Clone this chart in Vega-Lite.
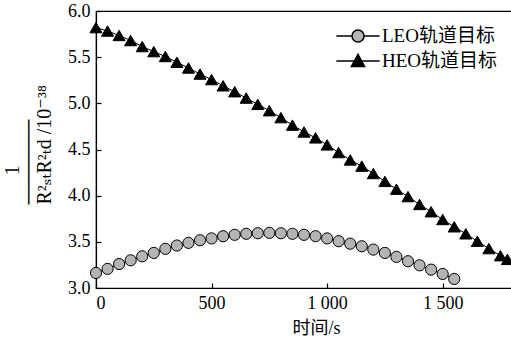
{
  "$schema": "https://vega.github.io/schema/vega-lite/v6.json",
  "width": 416,
  "height": 277,
  "autosize": "none",
  "padding": {"left": 96, "top": 11, "right": 0, "bottom": 57},
  "background": "white",
  "config": {
    "view": {"stroke": "black", "strokeWidth": 1.2},
    "font": "Liberation Serif, DejaVu Serif, Noto Sans CJK SC",
    "axis": {
      "grid": false,
      "domainColor": "black",
      "domainWidth": 1.2,
      "tickColor": "black",
      "tickWidth": 1.2,
      "tickSize": -5,
      "labelColor": "black",
      "titleColor": "black",
      "labelFont": "Liberation Serif, DejaVu Serif, Noto Sans CJK SC",
      "titleFont": "Liberation Serif, DejaVu Serif, Noto Sans CJK SC",
      "labelFontSize": 18,
      "titleFontSize": 18,
      "titleFontWeight": "normal"
    }
  },
  "datasets": {
    "d": [
      {"series": "LEO轨道目标", "t": 0, "v": 3.163},
      {"series": "LEO轨道目标", "t": 50, "v": 3.207},
      {"series": "LEO轨道目标", "t": 100, "v": 3.26},
      {"series": "LEO轨道目标", "t": 150, "v": 3.3},
      {"series": "LEO轨道目标", "t": 200, "v": 3.343},
      {"series": "LEO轨道目标", "t": 250, "v": 3.38},
      {"series": "LEO轨道目标", "t": 300, "v": 3.424},
      {"series": "LEO轨道目标", "t": 350, "v": 3.46},
      {"series": "LEO轨道目标", "t": 400, "v": 3.489},
      {"series": "LEO轨道目标", "t": 450, "v": 3.517},
      {"series": "LEO轨道目标", "t": 500, "v": 3.537},
      {"series": "LEO轨道目标", "t": 550, "v": 3.561},
      {"series": "LEO轨道目标", "t": 600, "v": 3.576},
      {"series": "LEO轨道目标", "t": 650, "v": 3.587},
      {"series": "LEO轨道目标", "t": 700, "v": 3.593},
      {"series": "LEO轨道目标", "t": 750, "v": 3.597},
      {"series": "LEO轨道目标", "t": 800, "v": 3.593},
      {"series": "LEO轨道目标", "t": 850, "v": 3.587},
      {"series": "LEO轨道目标", "t": 900, "v": 3.576},
      {"series": "LEO轨道目标", "t": 950, "v": 3.561},
      {"series": "LEO轨道目标", "t": 1000, "v": 3.537},
      {"series": "LEO轨道目标", "t": 1050, "v": 3.507},
      {"series": "LEO轨道目标", "t": 1100, "v": 3.48},
      {"series": "LEO轨道目标", "t": 1150, "v": 3.452},
      {"series": "LEO轨道目标", "t": 1200, "v": 3.416},
      {"series": "LEO轨道目标", "t": 1250, "v": 3.38},
      {"series": "LEO轨道目标", "t": 1300, "v": 3.337},
      {"series": "LEO轨道目标", "t": 1350, "v": 3.29},
      {"series": "LEO轨道目标", "t": 1400, "v": 3.246},
      {"series": "LEO轨道目标", "t": 1450, "v": 3.199},
      {"series": "LEO轨道目标", "t": 1500, "v": 3.152},
      {"series": "LEO轨道目标", "t": 1550, "v": 3.098},
      {"series": "HEO轨道目标", "t": 0, "v": 5.82},
      {"series": "HEO轨道目标", "t": 50, "v": 5.783},
      {"series": "HEO轨道目标", "t": 100, "v": 5.735},
      {"series": "HEO轨道目标", "t": 150, "v": 5.68},
      {"series": "HEO轨道目标", "t": 200, "v": 5.615},
      {"series": "HEO轨道目标", "t": 250, "v": 5.56},
      {"series": "HEO轨道目标", "t": 300, "v": 5.507},
      {"series": "HEO轨道目标", "t": 350, "v": 5.445},
      {"series": "HEO轨道目标", "t": 400, "v": 5.383},
      {"series": "HEO轨道目标", "t": 450, "v": 5.317},
      {"series": "HEO轨道目标", "t": 500, "v": 5.257},
      {"series": "HEO轨道目标", "t": 550, "v": 5.19},
      {"series": "HEO轨道目标", "t": 600, "v": 5.126},
      {"series": "HEO轨道目标", "t": 650, "v": 5.057},
      {"series": "HEO轨道目标", "t": 700, "v": 4.989},
      {"series": "HEO轨道目标", "t": 750, "v": 4.92},
      {"series": "HEO轨道目标", "t": 800, "v": 4.845},
      {"series": "HEO轨道目标", "t": 850, "v": 4.764},
      {"series": "HEO轨道目标", "t": 900, "v": 4.69},
      {"series": "HEO轨道目标", "t": 950, "v": 4.626},
      {"series": "HEO轨道目标", "t": 1000, "v": 4.55},
      {"series": "HEO轨道目标", "t": 1050, "v": 4.467},
      {"series": "HEO轨道目标", "t": 1100, "v": 4.387},
      {"series": "HEO轨道目标", "t": 1150, "v": 4.32},
      {"series": "HEO轨道目标", "t": 1200, "v": 4.24},
      {"series": "HEO轨道目标", "t": 1250, "v": 4.155},
      {"series": "HEO轨道目标", "t": 1300, "v": 4.07},
      {"series": "HEO轨道目标", "t": 1350, "v": 3.99},
      {"series": "HEO轨道目标", "t": 1400, "v": 3.905},
      {"series": "HEO轨道目标", "t": 1450, "v": 3.826},
      {"series": "HEO轨道目标", "t": 1500, "v": 3.742},
      {"series": "HEO轨道目标", "t": 1550, "v": 3.663},
      {"series": "HEO轨道目标", "t": 1600, "v": 3.587},
      {"series": "HEO轨道目标", "t": 1650, "v": 3.507},
      {"series": "HEO轨道目标", "t": 1700, "v": 3.427},
      {"series": "HEO轨道目标", "t": 1750, "v": 3.35},
      {"series": "HEO轨道目标", "t": 1780, "v": 3.31}
    ]
  },
  "data": {"name": "d"},
  "encoding": {
    "x": {
      "field": "t",
      "type": "quantitative",
      "scale": {"domain": [0, 1800], "nice": false, "zero": false},
      "axis": {
        "values": [0, 500, 1000, 1500],
        "labelExpr": "replace(format(datum.value, ','), ',', ' ')",
        "labelPadding": 11,
        "title": "时间/s",
        "titlePadding": 7,
        "titleX": 220
      }
    },
    "y": {
      "field": "v",
      "type": "quantitative",
      "scale": {"domain": [3, 6], "nice": false, "zero": false},
      "axis": {
        "values": [3, 3.5, 4, 4.5, 5, 5.5, 6],
        "format": ".1f",
        "labelPadding": 11,
        "title": ["⠀⠀1", "──────", "R²ₛₜR²ₜd /10⁻³⁸"],
        "titleAngle": -90,
        "titleAlign": "left",
        "titleBaseline": "middle",
        "titleFontSize": 20,
        "titleLineHeight": 16,
        "titleX": -84,
        "titleY": 193
      }
    }
  },
  "layer": [
    {
      "mark": {"type": "line", "color": "black", "strokeWidth": 1},
      "encoding": {"detail": {"field": "series"}}
    },
    {
      "mark": {"type": "point", "filled": true, "stroke": "black", "strokeWidth": 1, "opacity": 1},
      "encoding": {
        "fill": {
          "field": "series",
          "type": "nominal",
          "scale": {"domain": ["LEO轨道目标", "HEO轨道目标"], "range": ["#b4b4b4", "black"]},
          "legend": null
        },
        "shape": {
          "field": "series",
          "type": "nominal",
          "scale": {"domain": ["LEO轨道目标", "HEO轨道目标"], "range": ["circle", "triangle-up"]},
          "legend": null
        },
        "size": {
          "field": "series",
          "type": "nominal",
          "scale": {"domain": ["LEO轨道目标", "HEO轨道目标"], "range": [125, 145]},
          "legend": null
        }
      }
    },
    {
      "transform": [{"filter": "false"}],
      "mark": {"type": "point", "filled": true, "stroke": "black", "strokeWidth": 1, "opacity": 1},
      "encoding": {
        "fill": {
          "field": "series",
          "type": "nominal",
          "scale": {"domain": ["LEO轨道目标", "HEO轨道目标"], "range": ["#b4b4b4", "black"]},
          "legend": {
            "title": null,
            "orient": "none",
            "legendX": 249,
            "legendY": 12,
            "padding": 0,
            "symbolOffset": 0,
            "symbolSize": 576,
            "rowPadding": 2,
            "labelOffset": 11,
            "labelFontSize": 19,
            "labelColor": "black",
            "labelFont": "Liberation Serif, DejaVu Serif, Noto Sans CJK SC"
          }
        },
        "shape": {
          "field": "series",
          "type": "nominal",
          "scale": {"domain": ["LEO轨道目标", "HEO轨道目标"], "range": ["M-1.8,0H-0.5M0.5,0H1.8M-0.5,0A0.5,0.5,0,1,1,0.5,0A0.5,0.5,0,1,1,-0.5,0Z", "M-1.8,0H1.8M0,-0.55L0.55,0.45L-0.55,0.45Z"]},
          "legend": {
            "title": null,
            "orient": "none",
            "legendX": 249,
            "legendY": 12,
            "padding": 0,
            "symbolOffset": 0,
            "symbolSize": 576,
            "rowPadding": 2,
            "labelOffset": 11,
            "labelFontSize": 19,
            "labelColor": "black",
            "labelFont": "Liberation Serif, DejaVu Serif, Noto Sans CJK SC",
            "encode": {
              "symbols": {
                "update": {
                  "stroke": {"value": "black"},
                  "strokeWidth": {"value": 1},
                  "size": {"value": 576},
                  "opacity": {"value": 1}
                }
              }
            }
          }
        }
      }
    }
  ],
  "resolve": {"scale": {"shape": "independent", "size": "independent", "fill": "independent"}}
}
